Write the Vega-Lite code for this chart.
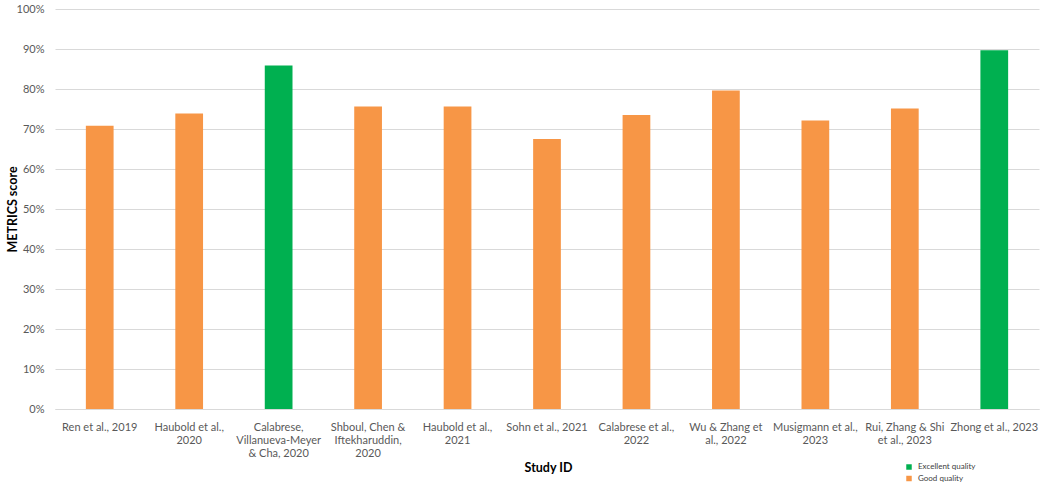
{
  "$schema": "https://vega.github.io/schema/vega-lite/v6.json",
  "width": 984,
  "height": 400,
  "autosize": "none",
  "padding": {"left": 55, "top": 9, "right": 1, "bottom": 76},
  "background": "white",
  "config": {
    "view": {"stroke": null},
    "font": "Lato"
  },
  "data": {
    "values": [
      {"study": "Ren et al., 2019", "score": 0.708, "quality": "Good quality"},
      {"study": "Haubold et al.,|2020", "score": 0.739, "quality": "Good quality"},
      {"study": "Calabrese,|Villanueva-Meyer|& Cha, 2020", "score": 0.859, "quality": "Excellent quality"},
      {"study": "Shboul, Chen &|Iftekharuddin,|2020", "score": 0.756, "quality": "Good quality"},
      {"study": "Haubold et al.,|2021", "score": 0.756, "quality": "Good quality"},
      {"study": "Sohn et al., 2021", "score": 0.675, "quality": "Good quality"},
      {"study": "Calabrese et al.,|2022", "score": 0.735, "quality": "Good quality"},
      {"study": "Wu & Zhang et|al., 2022", "score": 0.796, "quality": "Good quality"},
      {"study": "Musigmann et al.,|2023", "score": 0.721, "quality": "Good quality"},
      {"study": "Rui, Zhang & Shi|et al., 2023", "score": 0.751, "quality": "Good quality"},
      {"study": "Zhong et al., 2023", "score": 0.897, "quality": "Excellent quality"}
    ]
  },
  "mark": {"type": "bar"},
  "encoding": {
    "x": {
      "field": "study",
      "type": "nominal",
      "sort": null,
      "scale": {"paddingInner": 0.69, "paddingOuter": 0.345},
      "axis": {
        "title": "Study ID",
        "titleFont": "Lato",
        "titleFontSize": 12.5,
        "titleFontWeight": "bold",
        "titleColor": "#000000",
        "titleBaseline": "middle",
        "titleY": 58,
        "titleX": 493,
        "labelAngle": 0,
        "labelExpr": "split(datum.label, '|')",
        "labelFont": "Lato",
        "labelFontSize": 11,
        "labelColor": "#595959",
        "labelLineHeight": 13.4,
        "labelBaseline": "top",
        "labelPadding": 12,
        "labelLimit": 0,
        "ticks": false,
        "domainColor": "#D9D9D9",
        "domainWidth": 1,
        "grid": false
      }
    },
    "y": {
      "field": "score",
      "type": "quantitative",
      "scale": {"domain": [0, 1], "nice": false},
      "axis": {
        "title": "METRICS score",
        "titleFont": "Lato",
        "titleFontSize": 12.5,
        "titleFontWeight": "bold",
        "titleColor": "#000000",
        "titleAngle": -90,
        "titleBaseline": "middle",
        "titleX": -43,
        "titleY": 200,
        "values": [0, 0.1, 0.2, 0.3, 0.4, 0.5, 0.6, 0.7, 0.8, 0.9, 1],
        "format": ".0%",
        "labelFont": "Lato",
        "labelFontSize": 11,
        "labelColor": "#595959",
        "labelPadding": 11,
        "ticks": false,
        "domain": false,
        "grid": true,
        "gridColor": "#D9D9D9",
        "gridWidth": 1
      }
    },
    "color": {
      "field": "quality",
      "type": "nominal",
      "scale": {
        "domain": ["Excellent quality", "Good quality"],
        "range": ["#00B050", "#F79646"]
      },
      "legend": {
        "title": null,
        "orient": "none",
        "legendX": 850,
        "legendY": 454,
        "symbolType": "square",
        "symbolSize": 30,
        "symbolStrokeWidth": 0,
        "labelFont": "Lato",
        "labelFontSize": 8,
        "labelColor": "#404040",
        "labelOffset": 5,
        "rowPadding": 3.5,
        "padding": 0
      }
    }
  }
}
